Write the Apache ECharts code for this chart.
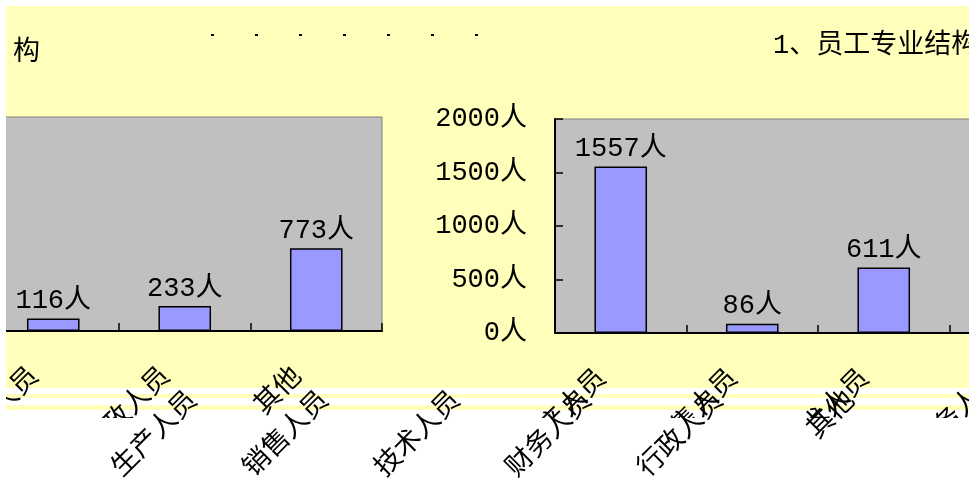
<!DOCTYPE html>
<html>
<head>
<meta charset="utf-8">
<script src="https://cdn.jsdelivr.net/npm/echarts@6/dist/echarts.min.js"></script>
<style>
html,body{margin:0;padding:0;background:#fff;}
#c{width:969px;height:482px;}
</style>
</head>
<body>
<div id="c"></div>
<script>
// ---- data ----
var categories = ['生产人员', '销售人员', '技术人员', '财务人员', '行政人员', '其他'];
var headcount = [1557, 86, 611, 116, 233, 773];
var titleText = '1、员工专业结构';
var titleWrap = '构';
var yUnit = '人';
var yMax = 2000;
var yStep = 500;

// ---- style ----
var FONT = '"Liberation Mono","Noto Sans CJK SC",monospace';
var FS = 27;
var YELLOW = '#FFFFBB';
var PLOT = '#C0C0C0';
var BAR = '#9999FF';

var chart = echarts.init(document.getElementById('c'), null, {renderer: 'canvas'});

function xAxisCfg(gridIndex, visibleLine, z) {
  return {
    type: 'category', gridIndex: gridIndex, data: categories, z: z,
    axisLine: {show: visibleLine, lineStyle: {color: '#000', width: 2}},
    axisTick: {show: visibleLine, inside: true, length: 8, lineStyle: {color: '#000', width: 1.5}},
    axisLabel: {
      interval: 0, rotate: 45, margin: 23, padding: [0, 26, 0, 0],
      color: '#000', fontSize: FS, fontFamily: FONT
    },
    splitLine: {show: false}
  };
}
function yAxisCfg(gridIndex, show) {
  return {
    type: 'value', gridIndex: gridIndex, min: 0, max: yMax, interval: yStep, show: show,
    axisLine: {show: true, lineStyle: {color: '#000', width: 2}},
    axisTick: {show: true, inside: true, length: 8, lineStyle: {color: '#000', width: 1.5}},
    axisLabel: {margin: 28, color: '#000', fontSize: FS, fontFamily: FONT,
      formatter: function (v) { return v + yUnit; }},
    splitLine: {show: false}
  };
}
function barSeries(idx) {
  return {
    type: 'bar', xAxisIndex: idx, yAxisIndex: idx, data: headcount,
    barWidth: '40%',
    itemStyle: {color: BAR, borderColor: '#000', borderWidth: 1.5},
    label: {show: true, position: 'top', distance: 4, color: '#000',
      fontSize: FS, fontFamily: FONT,
      formatter: function (p) { return p.value + yUnit; }}
  };
}

var gridStyle = {show: true, backgroundColor: PLOT, borderColor: '#808080', borderWidth: 1,
  containLabel: false, outerBoundsMode: 'none'};

chart.setOption({
  backgroundColor: '#fff',
  animation: false,
  title: [
    {text: titleText, left: 768, top: 27,
      textStyle: {fontSize: FS, fontWeight: 'normal', color: '#000', fontFamily: FONT}},
    {text: titleWrap, left: 8, top: 34,
      textStyle: {fontSize: FS, fontWeight: 'normal', color: '#000', fontFamily: FONT}}
  ],
  grid: [
    Object.assign({left: 555, top: 119, width: 789, height: 214}, gridStyle),
    Object.assign({left: -407, top: 117, width: 789, height: 214}, gridStyle),
    {show: false, left: 146, top: 141, width: 789, height: 214, containLabel: false, outerBoundsMode: 'none'}
  ],
  xAxis: [xAxisCfg(0, true, 0), xAxisCfg(1, true, 0), xAxisCfg(2, false, 6)],
  yAxis: [yAxisCfg(0, true), yAxisCfg(1, false), yAxisCfg(2, false)],
  series: [barSeries(0), barSeries(1)],
  graphic: [
    {type: 'rect', z: -10, silent: true, shape: {x: 6, y: 6, width: 963, height: 382}, style: {fill: YELLOW}},
    {type: 'rect', z: -10, silent: true, shape: {x: 0, y: 394, width: 969, height: 4}, style: {fill: YELLOW}},
    {type: 'rect', z: -10, silent: true, shape: {x: 0, y: 405, width: 969, height: 5}, style: {fill: YELLOW}},
    {type: 'rect', z: 3, silent: true, shape: {x: 0, y: 418, width: 969, height: 64}, style: {fill: '#fff'}},
    {type: 'rect', z: 20, silent: true, shape: {x: 0, y: 0, width: 6, height: 482}, style: {fill: '#fff'}},
    {type: 'line', z: 1, silent: true, shape: {x1: 211, y1: 35, x2: 482, y2: 35},
      style: {stroke: '#000', lineWidth: 2, lineDash: [3, 41]}}
  ]
});
</script>
</body>
</html>
